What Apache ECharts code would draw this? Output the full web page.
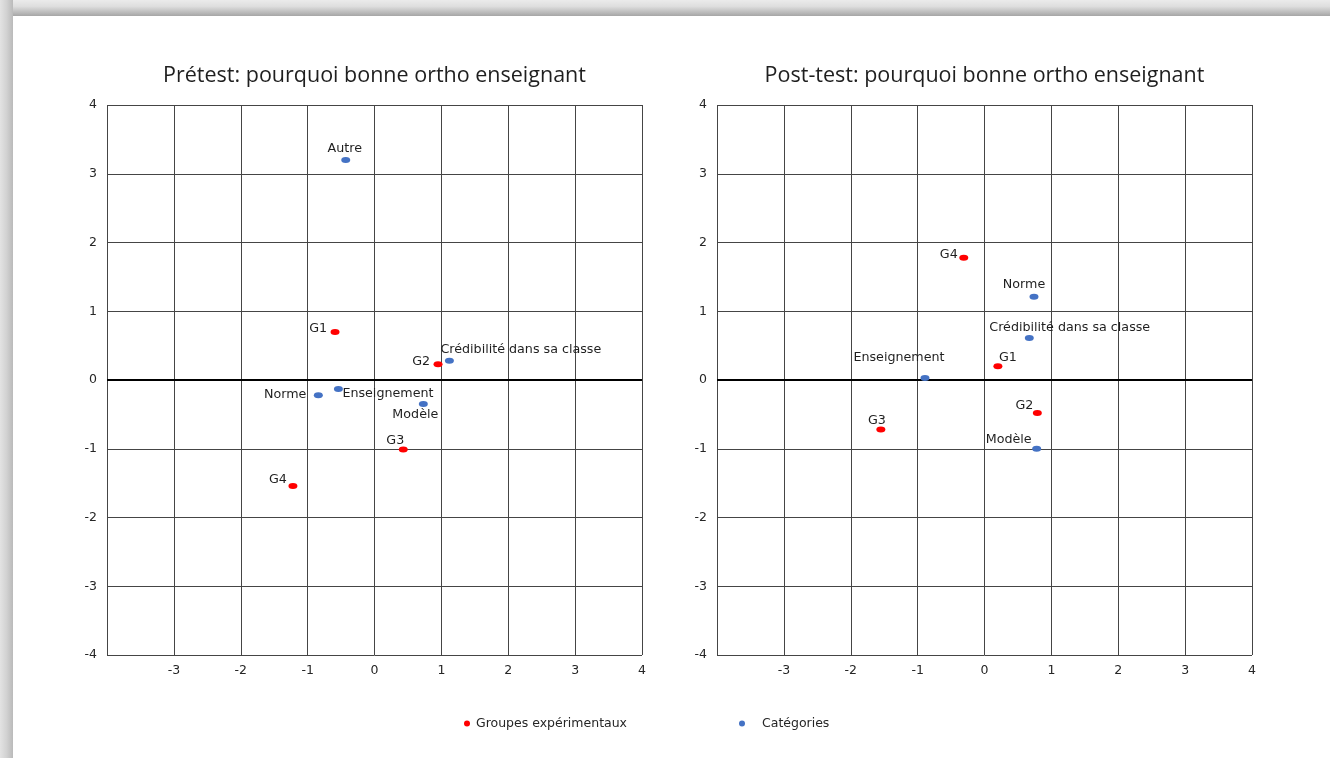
<!DOCTYPE html>
<html>
<head>
<meta charset="utf-8">
<script src="https://cdn.jsdelivr.net/npm/echarts@6/dist/echarts.min.js"></script>
<style>
  html, body { margin: 0; padding: 0; background: #ffffff; }
  #chart { position: absolute; left: 0; top: 0; width: 1330px; height: 758px; }
  .edge-top { position: absolute; left: 0; top: 0; width: 1330px; height: 16px; z-index: 2;
    background: linear-gradient(#ebebeb, #dedede 40%, #c2c2c2 70%, #a6a6a6); }
  .edge-left { position: absolute; left: 0; top: 0; width: 13px; height: 758px; z-index: 2;
    background: linear-gradient(to right, #e3e3e3, #d2d2d2 50%, #bababa); }
</style>
</head>
<body>
<div id="chart"></div>
<div class="edge-top"></div>
<div class="edge-left"></div>
<script>
// ---- Prétest ----
const preGroupNames = ['G1', 'G2', 'G3', 'G4'];
const preGroupX = [-0.59, 0.95, 0.43, -1.22];
const preGroupY = [0.70, 0.23, -1.01, -1.54];

const preCatNames = ['Autre', 'Crédibilité dans sa classe', 'Norme', 'Enseignement', 'Modèle'];
const preCatX = [-0.43, 1.12, -0.84, -0.54, 0.73];
const preCatY = [3.20, 0.28, -0.22, -0.13, -0.35];

// ---- Post-test ----
const postGroupNames = ['G1', 'G2', 'G3', 'G4'];
const postGroupX = [0.20, 0.79, -1.55, -0.31];
const postGroupY = [0.20, -0.48, -0.72, 1.78];

const postCatNames = ['Norme', 'Crédibilité dans sa classe', 'Enseignement', 'Modèle'];
const postCatX = [0.74, 0.67, -0.89, 0.78];
const postCatY = [1.21, 0.61, 0.03, -1.00];

// Axis ticks
const tickValues = [-4, -3, -2, -1, 0, 1, 2, 3, 4];

const titles = ['Prétest: pourquoi bonne ortho enseignant', 'Post-test: pourquoi bonne ortho enseignant'];
const seriesNames = ['Groupes expérimentaux', 'Catégories'];

// Label placement around each point: [dx, dy, align] from the marker centre
const preLabelPlace = {
  'G1': [-8, -3, 'right'], 'G2': [-8, -2, 'right'], 'G3': [-8, -9, 'center'], 'G4': [-6, -6, 'right'],
  'Autre': [-1, -11, 'center'], 'Crédibilité dans sa classe': [-9, -11, 'left'],
  'Norme': [-12, 0, 'right'], 'Enseignement': [4, 5, 'left'], 'Modèle': [-8, 11, 'center']
};
const postLabelPlace = {
  'G1': [1, -9, 'left'], 'G2': [-4, -7, 'right'], 'G3': [-4, -9, 'center'], 'G4': [-6, -3, 'right'],
  'Norme': [-10, -12, 'center'], 'Crédibilité dans sa classe': [-40, -10, 'left'],
  'Enseignement': [-26, -20, 'center'], 'Modèle': [-5, -9, 'right']
};

const SYM_W = 9, SYM_H = 6;
const TEXT = '#262626';
const FONT = 'DejaVu Sans';

function points(names, xs, ys, place) {
  return names.map((n, i) => {
    const p = place[n];
    return {
      name: n,
      value: [xs[i], ys[i]],
      label: {
        position: [SYM_W / 2 + p[0], SYM_H / 2 + p[1]],
        align: p[2],
        verticalAlign: 'middle'
      }
    };
  });
}

const grids = [
  { left: 107, top: 105, width: 535, height: 550 },
  { left: 717, top: 105, width: 535, height: 550 }
];

const gridLineColor = '#454545';

function xAxisFor(i) {
  return {
    type: 'value', gridIndex: i, min: -4, max: 4, interval: 1,
    axisLine: { show: false }, axisTick: { show: false },
    axisLabel: {
      margin: 9, color: TEXT, fontFamily: FONT, fontSize: 12.5,
      formatter: v => (v === tickValues[0] ? '' : String(v))
    },
    splitLine: { show: true, lineStyle: { color: gridLineColor, width: 1 } }
  };
}
function yAxisFor(i) {
  return {
    type: 'value', gridIndex: i, min: -4, max: 4, interval: 1,
    axisLine: { show: false }, axisTick: { show: false },
    axisLabel: { margin: 10, color: TEXT, fontFamily: FONT, fontSize: 12.5 },
    splitLine: { show: true, lineStyle: { color: gridLineColor, width: 1 } }
  };
}

const labelStyle = { show: true, formatter: '{b}', color: '#1f1f1f', fontFamily: FONT, fontSize: 12.7 };
const zeroLine = {
  silent: true, symbol: 'none', label: { show: false },
  lineStyle: { color: '#000000', width: 2, type: 'solid' },
  data: [{ yAxis: 0 }]
};

function scatter(name, gi, data, color, withZero) {
  const s = {
    type: 'scatter', name: name, xAxisIndex: gi, yAxisIndex: gi,
    symbol: 'circle', symbolSize: [SYM_W, SYM_H],
    itemStyle: { color: color, opacity: 1 },
    label: labelStyle,
    data: data, z: 5
  };
  if (withZero) s.markLine = zeroLine;
  return s;
}

const chart = echarts.init(document.getElementById('chart'), null, { renderer: 'canvas' });
chart.setOption({
  backgroundColor: '#ffffff',
  animation: false,
  title: titles.map((t, i) => ({
    text: t,
    left: grids[i].left + grids[i].width / 2 - 5, textAlign: 'center',
    top: 60,
    textStyle: { fontFamily: 'Open Sans', fontWeight: 'normal', fontSize: 21.5, color: '#1f1f1f' }
  })),
  legend: [
    {
      data: [seriesNames[0]], left: 459, top: 712, icon: 'circle', itemWidth: 8, itemHeight: 6,
      textStyle: { color: TEXT, fontFamily: FONT, fontSize: 12.5 }
    },
    {
      data: [seriesNames[1]], left: 734, top: 712, icon: 'circle', itemWidth: 8, itemHeight: 6,
      textStyle: { color: TEXT, fontFamily: FONT, fontSize: 12.5, padding: [0, 0, 0, 11] }
    }
  ],
  grid: grids,
  xAxis: [xAxisFor(0), xAxisFor(1)],
  yAxis: [yAxisFor(0), yAxisFor(1)],
  series: [
    scatter(seriesNames[1], 0, points(preCatNames, preCatX, preCatY, preLabelPlace), '#4472C4', true),
    scatter(seriesNames[0], 0, points(preGroupNames, preGroupX, preGroupY, preLabelPlace), '#FF0000', false),
    scatter(seriesNames[1], 1, points(postCatNames, postCatX, postCatY, postLabelPlace), '#4472C4', true),
    scatter(seriesNames[0], 1, points(postGroupNames, postGroupX, postGroupY, postLabelPlace), '#FF0000', false)
  ]
});
</script>
</body>
</html>
